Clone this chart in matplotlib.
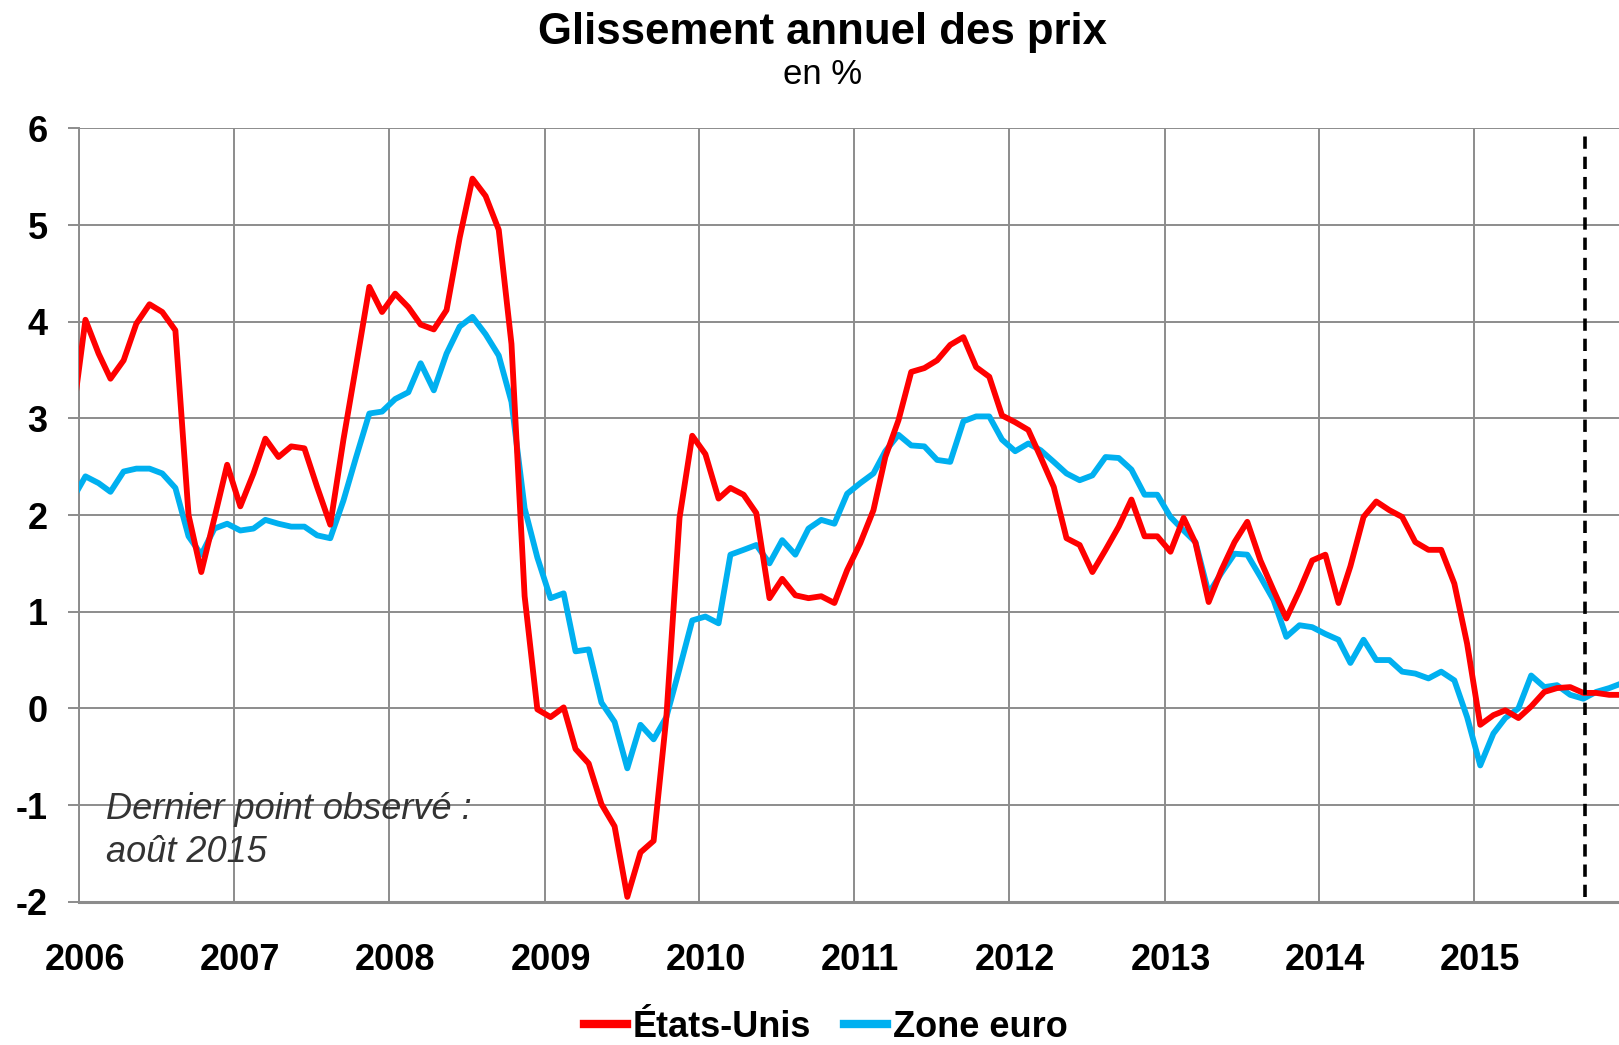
import numpy as np
import pandas as pd
import matplotlib
matplotlib.use('Agg')
import matplotlib.pyplot as plt
from matplotlib.transforms import ScaledTranslation

plt.rcParams['font.family'] = ['Liberation Sans', 'DejaVu Sans']
plt.rcParams['axes.unicode_minus'] = False

# monthly year-on-year change (%), Dec 2005 -> Dec 2015
etats_unis = (
    [2.98]
    + [4.02, 3.67, 3.41, 3.60, 3.98, 4.18, 4.10, 3.91, 2.00, 1.41, 1.97, 2.52]   # 2006
    + [2.09, 2.43, 2.79, 2.60, 2.71, 2.69, 2.29, 1.90, 2.78, 3.55, 4.36, 4.10]   # 2007
    + [4.29, 4.15, 3.97, 3.92, 4.12, 4.87, 5.48, 5.30, 4.95, 3.77, 1.16, -0.01]  # 2008
    + [-0.09, 0.01, -0.42, -0.57, -0.99, -1.22, -1.95, -1.49, -1.37, -0.09, 1.97, 2.82]  # 2009
    + [2.63, 2.17, 2.28, 2.21, 2.02, 1.14, 1.34, 1.17, 1.14, 1.16, 1.09, 1.43]   # 2010
    + [1.71, 2.05, 2.60, 2.98, 3.48, 3.52, 3.60, 3.76, 3.84, 3.53, 3.43, 3.03]   # 2011
    + [2.96, 2.88, 2.60, 2.29, 1.76, 1.69, 1.41, 1.64, 1.88, 2.16, 1.78, 1.78]   # 2012
    + [1.62, 1.97, 1.71, 1.10, 1.43, 1.72, 1.93, 1.53, 1.22, 0.93, 1.22, 1.53]   # 2013
    + [1.59, 1.09, 1.47, 1.98, 2.14, 2.05, 1.98, 1.72, 1.64, 1.64, 1.29, 0.67]   # 2014
    + [-0.17, -0.07, -0.02, -0.10, 0.02, 0.17, 0.21, 0.22, 0.16, 0.16, 0.14, 0.14]  # 2015
)
zone_euro = (
    [2.16]
    + [2.40, 2.33, 2.24, 2.45, 2.48, 2.48, 2.43, 2.28, 1.78, 1.59, 1.86, 1.91]   # 2006
    + [1.84, 1.86, 1.95, 1.91, 1.88, 1.88, 1.79, 1.76, 2.15, 2.60, 3.05, 3.07]   # 2007
    + [3.20, 3.27, 3.57, 3.29, 3.67, 3.95, 4.05, 3.87, 3.65, 3.17, 2.07, 1.56]   # 2008
    + [1.14, 1.19, 0.59, 0.61, 0.06, -0.14, -0.62, -0.17, -0.32, -0.09, 0.41, 0.91]  # 2009
    + [0.95, 0.88, 1.59, 1.64, 1.69, 1.50, 1.74, 1.59, 1.86, 1.95, 1.91, 2.22]   # 2010
    + [2.33, 2.43, 2.66, 2.83, 2.72, 2.71, 2.57, 2.55, 2.97, 3.02, 3.02, 2.78]   # 2011
    + [2.66, 2.74, 2.67, 2.55, 2.43, 2.36, 2.41, 2.60, 2.59, 2.47, 2.21, 2.21]   # 2012
    + [1.98, 1.84, 1.72, 1.19, 1.40, 1.60, 1.59, 1.36, 1.12, 0.74, 0.86, 0.84]   # 2013
    + [0.77, 0.71, 0.47, 0.71, 0.50, 0.50, 0.38, 0.36, 0.31, 0.38, 0.29, -0.09]  # 2014
    + [-0.59, -0.26, -0.10, 0.00, 0.34, 0.22, 0.24, 0.14, 0.10, 0.17, 0.21, 0.26]  # 2015
)
dates = pd.date_range('2005-12-01', periods=len(etats_unis), freq='MS') + pd.Timedelta(days=14)
year_ticks = pd.date_range('2006-01-01', '2015-01-01', freq='YS')
year_labels = [str(d.year) for d in year_ticks]
last_obs = pd.Timestamp('2015-09-20')

red = '#FF0000'
blue = '#00B0F0'
grid = '#8C8C8C'

fig = plt.figure(figsize=(16.19, 10.45), dpi=100)
ax = fig.add_axes([0.0491, 0.1371, 0.9509, 0.7401])

ax.plot(dates, zone_euro, color=blue, lw=4.2, label='Zone euro', zorder=3)
ax.plot(dates, etats_unis, color=red, lw=4.2, label='États-Unis', zorder=4)
ax.vlines(last_obs, -1.95, 5.98, colors='black', linestyles=(0, (3.4, 2.2)), lw=2.6, zorder=5)

ax.set_xlim(pd.Timestamp('2006-01-01'), pd.Timestamp('2015-12-08'))
ax.set_ylim(-2, 6)
ax.set_yticks(range(-2, 7))
ax.set_xticks(year_ticks)
ax.set_xticklabels(year_labels)
ax.grid(True, color=grid, lw=1.4, zorder=0)

for s in ['top', 'right']:
    ax.spines[s].set_visible(False)
ax.spines['left'].set_color(grid)
ax.spines['left'].set_linewidth(1.4)
ax.spines['bottom'].set_color(grid)
ax.spines['bottom'].set_linewidth(2.2)

ax.tick_params(axis='y', length=8, width=1.4, color=grid, pad=15,
               labelsize=26)
ax.tick_params(axis='x', length=0, pad=30, labelsize=26)
for lab in ax.get_yticklabels() + ax.get_xticklabels():
    lab.set_fontweight('bold')
for lab in ax.get_xticklabels():
    lab.set_transform(lab.get_transform() + ScaledTranslation(0.06, 0, fig.dpi_scale_trans))

ax.text(0.017, 0.092, 'Dernier point observé :\naoût 2015', transform=ax.transAxes,
        fontsize=26, style='italic', color='#333333', va='center', ha='left',
        linespacing=1.3)

fig.text(0.508, 0.969, 'Glissement annuel des prix', ha='center', va='center',
         fontsize=31.5, fontweight='bold')
fig.text(0.508, 0.929, 'en %', ha='center', va='center', fontsize=25)

h, l = ax.get_legend_handles_labels()
leg = fig.legend(h[::-1], l[::-1], loc='center', bbox_to_anchor=(0.51, 0.017),
                 ncol=2, frameon=False, handlelength=1.2, handletextpad=0.15,
                 columnspacing=0.9, prop={'weight': 'bold', 'size': 26})
for line in leg.get_lines():
    line.set_linewidth(6)

fig.savefig('out.png', dpi=100)
